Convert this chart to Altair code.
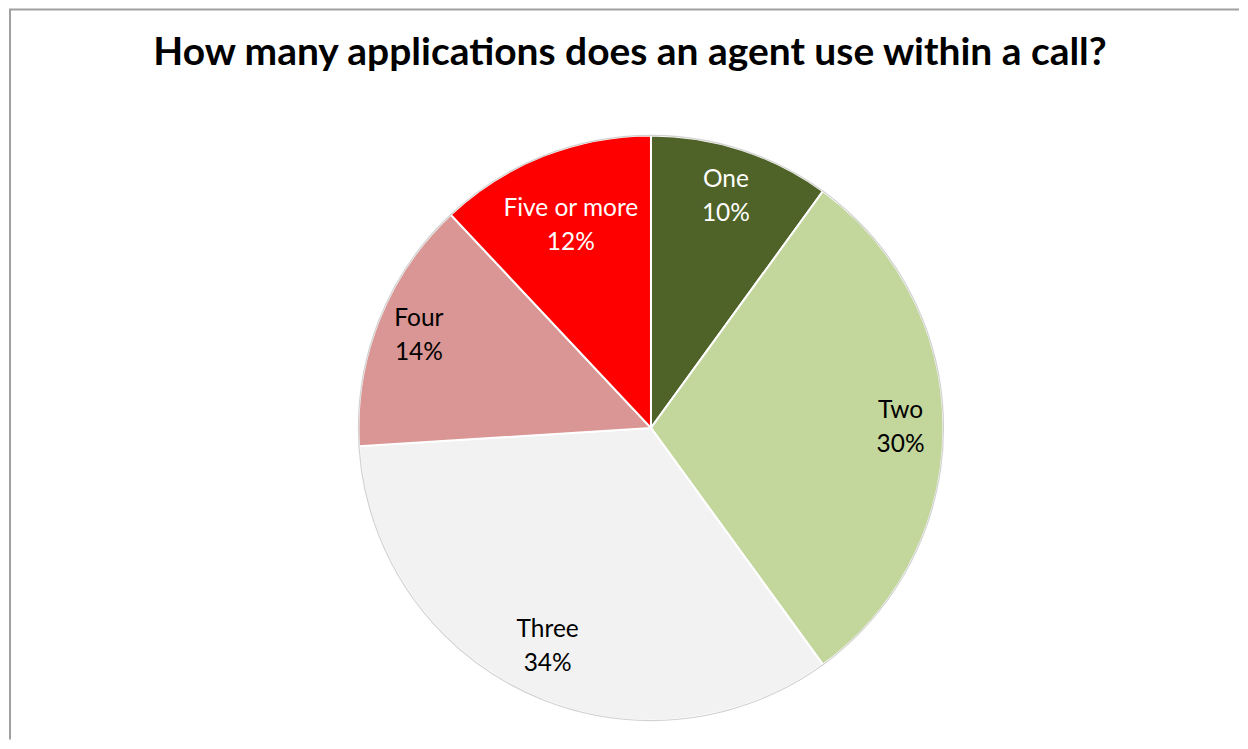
import altair as alt
import pandas as pd
import math

categories = ["One", "Two", "Three", "Four", "Five or more"]
values = [10, 30, 34, 14, 12]
pct_labels = ["10%", "30%", "34%", "14%", "12%"]
colors = ["#4F6228", "#C3D69B", "#F2F2F2", "#D99694", "#FF0000"]
title_text = "How many applications does an agent use within a call?"

total = sum(values)
cum = 0
mids = []
for v in values:
    mids.append((cum + v / 2) / total * 2 * math.pi)
    cum += v

df = pd.DataFrame({
    "cat": categories,
    "value": values,
    "pct": pct_labels,
    "order": list(range(len(categories))),
    "mid": mids,
})

W, H = 1232, 728
CX, CY = 643, 416
R = 293

color = alt.Color("cat:N", scale=alt.Scale(domain=categories, range=colors), legend=None)

slices = alt.Chart(df).mark_arc(radius=R, stroke="white", strokeWidth=2).encode(
    theta=alt.Theta("value:Q", stack=True),
    order=alt.Order("order:Q", sort="ascending"),
    color=color, x=alt.value(CX), y=alt.value(CY)
)

outline = alt.Chart(pd.DataFrame({"a": [0]})).mark_point(
    shape="circle", filled=False, stroke="#BFBFBF", strokeWidth=1.2, size=(2 * R) ** 2
).encode(x=alt.value(CX), y=alt.value(CY))

labels = alt.Chart(df).transform_calculate(
    lab="datum.cat + '\\n' + datum.pct",
    lr="datum.cat == 'Five or more' ? 218 : datum.cat == 'Two' ? 250 : datum.cat == 'Four' ? 250 : 243",
    tc="(datum.cat == 'One' || datum.cat == 'Five or more') ? 'white' : 'black'",
).mark_text(
    font="Lato", fontSize=24.5, lineBreak="\n", lineHeight=34, baseline="middle", align="center",
    dy=-17
).encode(
    text="lab:N",
    theta=alt.Theta("mid:Q", scale=None),
    radius=alt.Radius("lr:Q", scale=None),
    color=alt.Color("tc:N", scale=None),
    x=alt.value(CX), y=alt.value(CY),
)

title = alt.Chart(pd.DataFrame({"t": [title_text]})).mark_text(
    font="Lato", fontSize=39, fontWeight="bold", align="center", baseline="middle", color="black"
).encode(text="t:N", x=alt.value(622), y=alt.value(40))

left_border = alt.Chart(pd.DataFrame({"a": [0]})).mark_rule(color="#A0A0A0", strokeWidth=2).encode(
    x=alt.value(1), y=alt.value(-3), y2=alt.value(H)
)
top_border = alt.Chart(pd.DataFrame({"a": [0]})).mark_rule(color="#A0A0A0", strokeWidth=2).encode(
    x=alt.value(0), x2=alt.value(W), y=alt.value(-3)
)

chart = alt.layer(slices, outline, labels, title, left_border, top_border).properties(
    width=W, height=H, padding=0
).configure_view(stroke=None)

chart.save("out.html", embed_options={"renderer": "svg", "actions": False})
